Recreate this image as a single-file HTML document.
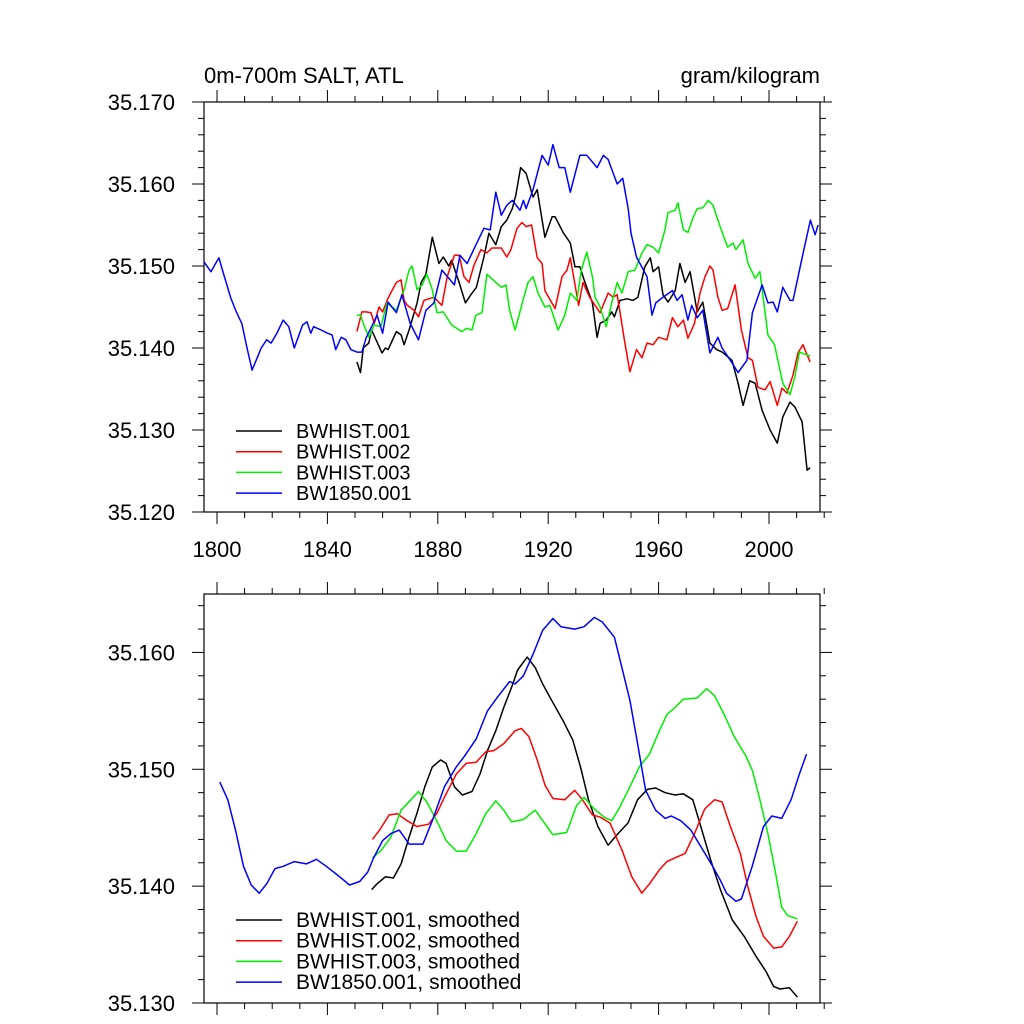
<!DOCTYPE html>
<html><head><meta charset="utf-8"><style>
html,body{margin:0;padding:0;background:#fff;}
svg{display:block;font-family:"Liberation Sans",sans-serif;}
</style></head>
<body>
<svg id="chart" width="1024" height="1024" viewBox="0 0 1024 1024">
<text x="204" y="83" font-size="22">0m-700m SALT, ATL</text>
<text x="820" y="83" font-size="22" text-anchor="end">gram/kilogram</text>
<g id="top"></g>
<g id="bot"></g>
</svg>
<script>
// ---------- data ----------
const xTickYears = [1800, 1840, 1880, 1920, 1960, 2000];
const topYTicks = ["35.120","35.130","35.140","35.150","35.160","35.170"];
const botYTicks = ["35.130","35.140","35.150","35.160"];
const seriesNames = ["BWHIST.001","BWHIST.002","BWHIST.003","BW1850.001"];
const seriesColors = ["#000000","#ff0000","#00ee00","#0000ff"];

const t1Years=[1850.7,1852,1853,1855,1856,1859.8,1861,1862,1865,1866.7,1867.8,1869.6,1872.5,1874,1875.7,1878,1880.4,1882,1884,1885,1887.7,1890,1892,1894,1896.7,1898.5,1901,1903,1905,1907,1908.3,1910,1912,1914.5,1916,1918.8,1921.4,1922.5,1925.4,1928,1929.7,1931.5,1933,1936,1937.7,1938.8,1941,1943,1944,1946,1948.6,1950.7,1952.5,1955,1957,1958,1960,1961.6,1963.4,1966,1967.7,1969.6,1971.4,1974,1976,1978.6,1981,1983,1986.6,1988.8,1990.6,1993,1995,1997.5,2000.4,2003,2005,2007.6,2009.4,2012,2013.8,2014.9];
const t1Vals=[35.1383,35.137,35.140,35.1406,35.1422,35.1394,35.140,35.1398,35.142,35.1416,35.1404,35.1422,35.1455,35.148,35.149,35.1535,35.1503,35.1511,35.150,35.1507,35.148,35.1455,35.1465,35.1474,35.1511,35.154,35.1526,35.1548,35.1556,35.157,35.1587,35.162,35.1613,35.1584,35.1593,35.1535,35.156,35.156,35.1541,35.1528,35.1499,35.1499,35.1483,35.1455,35.1413,35.143,35.1434,35.1444,35.1438,35.1458,35.146,35.1458,35.1462,35.1499,35.151,35.1493,35.1499,35.1465,35.1456,35.147,35.1503,35.148,35.1493,35.1444,35.1456,35.1406,35.1398,35.1395,35.1385,35.1357,35.133,35.136,35.1357,35.1324,35.130,35.1284,35.1316,35.1334,35.1328,35.131,35.1251,35.1254];

const t2Years=[1850.7,1852.5,1854,1855.8,1857,1858.7,1860,1862,1865,1866.7,1867.8,1869,1871.4,1873,1875,1876.8,1878.6,1881.5,1883.4,1886,1887.7,1889.5,1891.3,1893,1895.6,1897.8,1899.6,1903,1905,1906.5,1908.7,1910.5,1912,1914,1916,1917.8,1918.8,1922.5,1925,1926.8,1928,1931,1932.6,1935,1938.8,1941.7,1943.5,1945,1947.8,1949.6,1952,1954,1955.8,1958,1960,1963,1965,1967,1969,1970.6,1973,1975,1976.8,1978.6,1979.7,1981.5,1983,1985,1987.7,1990,1992.4,1994,1996,1998.6,2000.4,2003,2004.7,2006.5,2008.7,2010.5,2012.3,2014.9];
const t2Vals=[35.142,35.1444,35.1444,35.1443,35.143,35.145,35.1444,35.1461,35.148,35.1483,35.1458,35.1452,35.1446,35.1438,35.1458,35.146,35.1462,35.1452,35.1487,35.1513,35.1513,35.1487,35.148,35.150,35.152,35.1516,35.1522,35.1522,35.1511,35.152,35.1546,35.1553,35.1548,35.155,35.151,35.1503,35.147,35.1448,35.1487,35.1495,35.151,35.1452,35.148,35.1462,35.1443,35.1467,35.1462,35.1465,35.1406,35.1371,35.1398,35.1388,35.1406,35.1404,35.1413,35.141,35.1437,35.1426,35.1434,35.1412,35.143,35.1467,35.1487,35.150,35.1495,35.1462,35.1446,35.1448,35.1477,35.1422,35.1388,35.1385,35.1352,35.1349,35.1359,35.133,35.1351,35.1345,35.1367,35.1394,35.1404,35.1383];

const t3Years=[1850.7,1852,1853,1855,1857,1859.4,1861.6,1863.4,1865,1867.8,1869.6,1870.7,1872.5,1874.3,1876,1878,1879.7,1882,1885,1888.7,1890.5,1892.4,1893.8,1896,1897.8,1901,1903,1904.7,1906,1908,1911,1912.7,1914.5,1916.3,1918.8,1920.6,1923.6,1926,1928,1930.4,1932,1934,1936,1937,1938.8,1941,1943,1945,1946.7,1949,1951.4,1954,1955.8,1958,1960,1962.3,1963.4,1966,1967,1969,1970.6,1972.5,1974,1976,1978,1979.7,1982.3,1985,1987,1988,1990.6,1992.4,1995,1996.7,1999.6,2002,2005,2007.6,2009.4,2011,2014.9];
const t3Vals=[35.144,35.144,35.143,35.1413,35.1428,35.1426,35.1455,35.145,35.1446,35.1471,35.1495,35.150,35.1471,35.1477,35.149,35.1471,35.1443,35.1444,35.1428,35.142,35.1424,35.1422,35.144,35.1443,35.149,35.148,35.1474,35.1477,35.1446,35.1422,35.146,35.148,35.1487,35.1467,35.145,35.1452,35.1422,35.144,35.1467,35.1458,35.1495,35.1517,35.1487,35.1462,35.145,35.1426,35.1455,35.148,35.1467,35.1493,35.1495,35.1516,35.1526,35.1523,35.1516,35.1544,35.1565,35.1568,35.1577,35.1544,35.1541,35.1559,35.157,35.1571,35.158,35.1574,35.1548,35.1523,35.1528,35.152,35.1532,35.1503,35.1485,35.1493,35.1416,35.1404,35.1357,35.1343,35.1365,35.1395,35.139];

const t4Years=[1795.3,1797.8,1800.7,1802.5,1805,1807,1809,1811,1812.7,1816,1818,1819.6,1821.7,1824,1826,1828,1831,1832.6,1834,1835,1837.7,1840,1841.7,1843,1845,1846.7,1848.5,1850.7,1852.5,1854,1858,1860,1862,1865,1867,1870,1873,1875.7,1878.6,1881.5,1886,1888,1890.6,1893,1896.7,1899,1901,1903,1905,1907,1909.8,1911,1912,1914.5,1917.8,1920,1921.7,1924,1926,1928,1931.5,1934,1937.7,1940,1941.7,1945,1947,1949,1950,1952,1955.8,1957.6,1959,1961.6,1965,1966.7,1968.5,1970.6,1972,1974,1976,1978.6,1981.5,1983,1986,1988.8,1992,1994,1997.5,1999.6,2001.5,2003,2005,2007.6,2008.7,2012,2015,2016.7,2017.8];
const t4Vals=[35.1505,35.1493,35.151,35.1489,35.1461,35.1444,35.143,35.1398,35.1373,35.140,35.141,35.1406,35.1418,35.1434,35.1426,35.140,35.1428,35.1432,35.1418,35.1426,35.1422,35.1418,35.1416,35.1398,35.1413,35.141,35.1398,35.1395,35.1395,35.1412,35.144,35.1418,35.1456,35.1443,35.1465,35.143,35.141,35.1446,35.1455,35.1495,35.1477,35.1513,35.1503,35.152,35.1546,35.1544,35.159,35.1562,35.1574,35.158,35.1568,35.158,35.157,35.1593,35.1635,35.1623,35.1648,35.162,35.162,35.159,35.1635,35.1635,35.162,35.1635,35.163,35.160,35.1607,35.157,35.154,35.1511,35.1487,35.144,35.1455,35.1462,35.147,35.1458,35.1465,35.1434,35.1452,35.1437,35.1446,35.1394,35.1413,35.140,35.1385,35.137,35.1385,35.1443,35.1477,35.1455,35.1456,35.1444,35.1474,35.1458,35.1458,35.151,35.1556,35.1538,35.155];

const b1Years=[1856,1858,1861,1863.9,1866.7,1869.6,1872.4,1875.3,1878,1881,1883,1886,1888.9,1892.4,1895.3,1898,1901,1903.9,1906.7,1908.9,1912.4,1915.3,1918,1921,1925.3,1928.9,1931.7,1934.6,1938,1941.7,1945.3,1948.9,1952.4,1956,1958.9,1962.4,1966,1968.9,1972.4,1975.3,1978.9,1982.4,1986.7,1991,1995.3,1998.9,2001.7,2004,2007.4,2010.3];
const b1Vals=[35.1397,35.1402,35.1408,35.1407,35.1419,35.1442,35.1462,35.1485,35.1502,35.1508,35.1505,35.1485,35.1478,35.1481,35.1496,35.1516,35.1533,35.1553,35.157,35.1585,35.1596,35.1587,35.1573,35.156,35.1542,35.1525,35.1502,35.1474,35.1451,35.1435,35.1445,35.1454,35.1474,35.1483,35.1484,35.148,35.1478,35.1479,35.1474,35.1451,35.1422,35.1397,35.1371,35.1357,35.134,35.1327,35.1314,35.1312,35.1313,35.1305];

const b2Years=[1856.3,1858.9,1862.4,1865.3,1868.9,1872.4,1876.7,1879.6,1882.4,1886.7,1890.3,1893.9,1897.4,1900.3,1903.9,1908,1910.3,1913,1916,1918.9,1921.7,1926,1929.6,1932.4,1936,1938.9,1942.4,1946.7,1950.3,1953.9,1956.7,1960.3,1963,1966.7,1969.6,1973,1976.7,1980.3,1983,1986,1989.6,1992.4,1995.3,1998,2001.7,2004.6,2007.4,2010.3];
const b2Vals=[35.144,35.1448,35.1461,35.1462,35.1456,35.1451,35.1453,35.1462,35.1476,35.1496,35.1505,35.1506,35.1515,35.1516,35.1522,35.1533,35.1535,35.1528,35.1508,35.1486,35.1475,35.1474,35.1482,35.1474,35.1461,35.1459,35.1454,35.1431,35.1408,35.1394,35.1402,35.1414,35.1421,35.1425,35.1428,35.1445,35.1466,35.1474,35.1472,35.1451,35.1428,35.1399,35.1374,35.1357,35.1347,35.1348,35.1357,35.137];

const b3Years=[1856.3,1859.6,1863,1866.7,1870.3,1873,1876,1879.6,1883,1886.7,1890.3,1893.9,1897.4,1901,1903.9,1906.7,1911,1915.3,1918,1921.7,1926.7,1930.3,1933,1936.7,1940.3,1943,1946,1949.6,1953,1956.7,1960.3,1963,1966,1968.9,1973.9,1977.4,1980.3,1983.9,1987.4,1991.7,1994,1996.7,1999.6,2002.4,2004.6,2006.7,2010.3];
const b3Vals=[35.1424,35.1431,35.1442,35.1465,35.1474,35.1481,35.1472,35.1456,35.1439,35.143,35.143,35.1445,35.1462,35.1473,35.1465,35.1455,35.1457,35.1465,35.1456,35.1444,35.1446,35.1469,35.1476,35.1466,35.1459,35.1456,35.1468,35.1485,35.1502,35.1513,35.1533,35.1547,35.1553,35.156,35.1561,35.1569,35.1563,35.1546,35.1528,35.1511,35.1499,35.1474,35.1445,35.1411,35.1382,35.1375,35.1372];

const b4Years=[1801,1803.9,1806.7,1809.6,1812.4,1815.3,1818,1821,1824,1828,1832.4,1836,1839.6,1843.9,1848,1851.7,1854.6,1856.7,1860,1863,1866,1869.6,1874.6,1878,1882.4,1886.7,1889.6,1893.9,1898,1901.7,1906,1908,1911,1914.6,1918,1921.7,1924.6,1929.6,1933,1936.7,1939.6,1944,1946.7,1949.6,1952.4,1955.3,1958.9,1962.4,1964.6,1968,1971.7,1976,1979.6,1982.4,1984.6,1988,1990,1993.9,1998,2001,2004.6,2008,2011,2013.6];
const b4Vals=[35.1489,35.1474,35.1448,35.1417,35.1401,35.1394,35.1402,35.1415,35.1417,35.1421,35.1419,35.1423,35.1417,35.1409,35.1401,35.1404,35.1412,35.1424,35.1439,35.1445,35.1448,35.1436,35.1436,35.1456,35.1485,35.1502,35.1511,35.1526,35.155,35.1562,35.1575,35.1573,35.158,35.1599,35.1619,35.1629,35.1622,35.162,35.1622,35.163,35.1626,35.1613,35.1587,35.1559,35.1522,35.1482,35.1465,35.1458,35.146,35.1456,35.1448,35.1431,35.1417,35.1405,35.1394,35.1387,35.1389,35.1417,35.1451,35.146,35.1458,35.1474,35.1496,35.1513];

// ---------- drawing ----------
const NS="http://www.w3.org/2000/svg";
const L=204,R=820;
function xs(yr){return 217+(yr-1800)*2.76;}
const xMinor=[]; for(let yr=1800; yr<=2020; yr+=10) xMinor.push(yr);

function mk(tag,attrs,parent){const e=document.createElementNS(NS,tag);for(const k in attrs)e.setAttribute(k,attrs[k]);parent.appendChild(e);return e;}

function panel(g,top,bot,vmin,vmax,majorLabels,legendY,suffix,series,prefix,legendFont){
  const ys=v=>bot-(v-vmin)/(vmax-vmin)*(bot-top);
  const frame=mk('rect',{x:L,y:top,width:R-L,height:bot-top,fill:'none',stroke:'#000','stroke-width':1.2},g);
  
  
  xMinor.forEach(yr=>{
    const x=xs(yr); const major=xTickYears.includes(yr); const len=major?12:6;
    const t1=mk('line',{x1:x,x2:x,y1:bot,y2:bot+len,stroke:'#000','stroke-width':1},g);
    
    
    const t2=mk('line',{x1:x,x2:x,y1:top,y2:top-len,stroke:'#000','stroke-width':1},g);
    
    
  });
  for(let i=0;;i++){
    const v=vmin+i*0.002; if(v>vmax+1e-9)break;
    const y=ys(v); const major=(i%5===0); const len=major?12:6;
    const a=mk('line',{x1:L,x2:L-len,y1:y,y2:y,stroke:'#000','stroke-width':1},g);
    
    
    const b=mk('line',{x1:R,x2:R+len,y1:y,y2:y,stroke:'#000','stroke-width':1},g);
    
    
  }
  majorLabels.forEach(lbl=>{
    const t=mk('text',{x:175,y:ys(parseFloat(lbl))+8,'font-size':22,'text-anchor':'end'},g);
    t.textContent=lbl;
    
    
  });
  series.forEach((s,i)=>{
    const d=s[0].map((yr,j)=>(j?'L':'M')+xs(yr).toFixed(1)+','+ys(s[1][j]).toFixed(1)).join('');
    const p=mk('path',{d:d,fill:'none',stroke:seriesColors[i],'stroke-width':1.5,'stroke-linejoin':'round'},g);
    
    
  });
  seriesNames.forEach((n,i)=>{
    const y=legendY+i*20.7;
    const ln=mk('line',{x1:236,x2:282,y1:y,y2:y,stroke:seriesColors[i],'stroke-width':1.5},g);
    
    
    const t=mk('text',{x:296,y:y+7,'font-size':legendFont},g);
    t.textContent=n+suffix;
    
    
  });
}

const gt=document.getElementById('top'), gb=document.getElementById('bot');
panel(gt,102,512,35.120,35.170,topYTicks,431,"",
  [[t1Years,t1Vals],[t2Years,t2Vals],[t3Years,t3Vals],[t4Years,t4Vals]],'top',20);
xTickYears.forEach(yr=>{
  const t=mk('text',{x:xs(yr),y:557,'font-size':22,'text-anchor':'middle'},gt);
  t.textContent=yr;
  
  
});
panel(gb,594,1003,35.130,35.165,botYTicks,920,", smoothed",
  [[b1Years,b1Vals],[b2Years,b2Vals],[b3Years,b3Vals],[b4Years,b4Vals]],'bottom',21);
</script>
</body></html>
